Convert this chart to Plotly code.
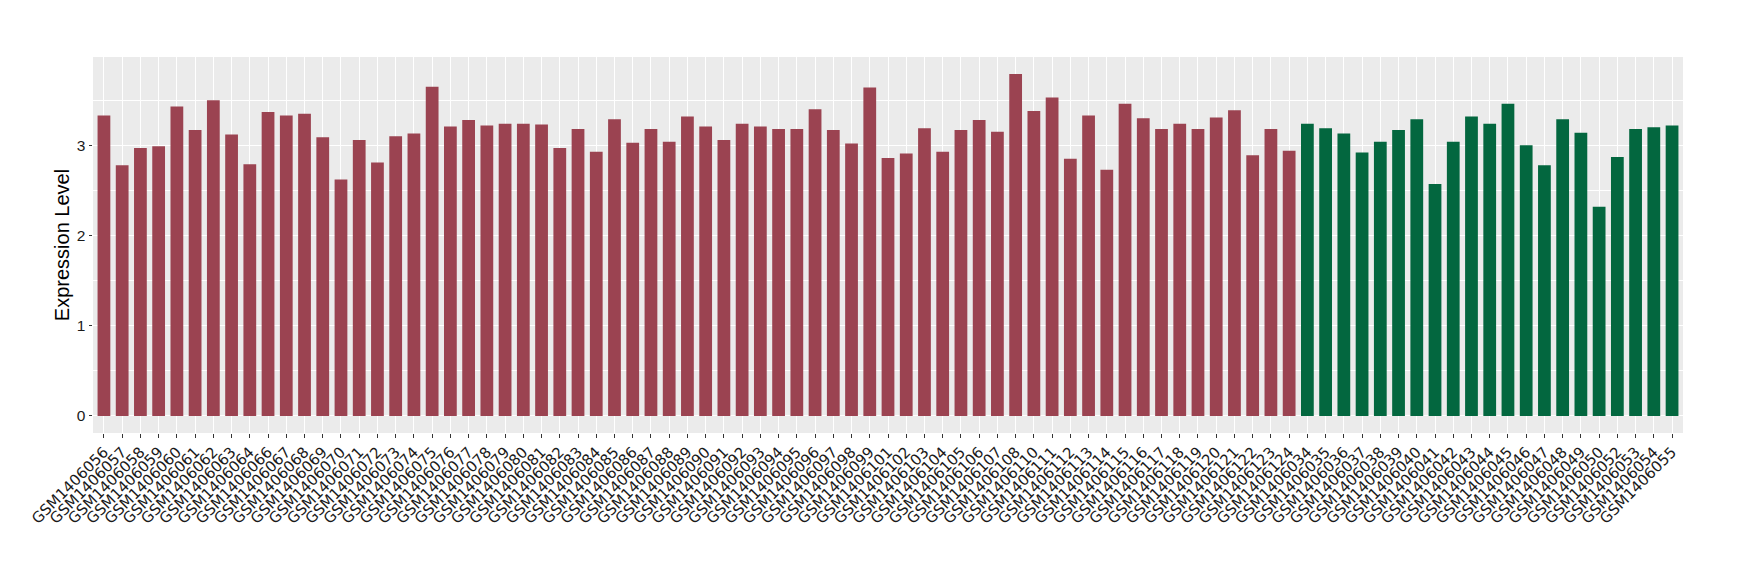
import plotly.graph_objects as go

group1_labels = ["GSM1406056","GSM1406057","GSM1406058","GSM1406059","GSM1406060","GSM1406061","GSM1406062","GSM1406063","GSM1406064",
"GSM1406066","GSM1406067","GSM1406068","GSM1406069","GSM1406070","GSM1406071","GSM1406072","GSM1406073","GSM1406074","GSM1406075",
"GSM1406076","GSM1406077","GSM1406078","GSM1406079","GSM1406080","GSM1406081","GSM1406082","GSM1406083","GSM1406084","GSM1406085",
"GSM1406086","GSM1406087","GSM1406088","GSM1406089","GSM1406090","GSM1406091","GSM1406092","GSM1406093","GSM1406094","GSM1406095",
"GSM1406096","GSM1406097","GSM1406098","GSM1406099","GSM1406101","GSM1406102","GSM1406103","GSM1406104","GSM1406105","GSM1406106",
"GSM1406107","GSM1406108","GSM1406110","GSM1406111","GSM1406112","GSM1406113","GSM1406114","GSM1406115","GSM1406116","GSM1406117",
"GSM1406118","GSM1406119","GSM1406120","GSM1406121","GSM1406122","GSM1406123","GSM1406124"]
group1_values = [3.33,2.78,2.97,2.99,3.43,3.17,3.50,3.12,2.79,
3.37,3.33,3.35,3.09,2.62,3.06,2.81,3.10,3.13,3.65,
3.21,3.28,3.22,3.24,3.24,3.23,2.97,3.18,2.93,3.29,
3.03,3.18,3.04,3.32,3.21,3.06,3.24,3.21,3.18,3.18,
3.40,3.17,3.02,3.64,2.86,2.91,3.19,2.93,3.17,3.28,
3.15,3.79,3.38,3.53,2.85,3.33,2.73,3.46,3.30,3.18,
3.24,3.18,3.31,3.39,2.89,3.18,2.94]

group2_labels = ["GSM1406034","GSM1406035","GSM1406036","GSM1406037","GSM1406038","GSM1406039","GSM1406040","GSM1406041",
"GSM1406042","GSM1406043","GSM1406044","GSM1406045","GSM1406046","GSM1406047","GSM1406048","GSM1406049","GSM1406050",
"GSM1406052","GSM1406053","GSM1406054","GSM1406055"]
group2_values = [3.24,3.19,3.13,2.92,3.04,3.17,3.29,2.57,
3.04,3.32,3.24,3.46,3.00,2.78,3.29,3.14,2.32,
2.87,3.18,3.20,3.22]

all_labels = group1_labels + group2_labels
n = len(all_labels)

fig = go.Figure()
fig.add_trace(go.Bar(x=group1_labels, y=group1_values, marker=dict(color="#9B4351", line=dict(width=0)),
                     width=0.7, showlegend=False))
fig.add_trace(go.Bar(x=group2_labels, y=group2_values, marker=dict(color="#03673F", line=dict(width=0)),
                     width=0.7, showlegend=False))

ymax = max(group1_values + group2_values)
fig.update_layout(
    width=1740, height=580,
    barmode="overlay",
    paper_bgcolor="white", plot_bgcolor="#EBEBEB",
    margin=dict(l=93, r=57, t=57, b=147, autoexpand=False),
    font=dict(family="Liberation Sans, Arial, sans-serif", color="#1A1A1A"),
    xaxis=dict(
        type="category", categoryorder="array", categoryarray=all_labels,
        range=[-0.6, n - 1 + 0.6], automargin=False,
        tickmode="array", tickvals=all_labels, ticktext=all_labels,
        tickangle=-45, tickfont=dict(family="DejaVu Sans", size=15, color="#1A1A1A"),
        ticks="outside", ticklen=3.5, tickcolor="#333333", tickwidth=1,
        showgrid=True, gridcolor="white", gridwidth=1.1,
        showline=False, zeroline=False,
    ),
    yaxis=dict(
        range=[-0.05 * ymax, 1.05 * ymax], automargin=False,
        tickvals=[0, 1, 2, 3], ticktext=["0", "1", "2", "3"],
        tickfont=dict(size=15.5, color="#1A1A1A"),
        ticks="outside", ticklen=3.5, tickcolor="#333333", tickwidth=1,
        showgrid=True, gridcolor="white", gridwidth=1.1,
        minor=dict(tickvals=[0.5, 1.5, 2.5, 3.5], showgrid=True, gridcolor="white", gridwidth=0.55, ticklen=0),
        zeroline=False, showline=False,
        title=dict(text="Expression Level", font=dict(size=20, color="black"), standoff=1),
    ),
)

fig.write_html("out.html", config={"displayModeBar": False},
               post_script="document.body.style.margin='0';document.body.style.overflow='hidden';")
